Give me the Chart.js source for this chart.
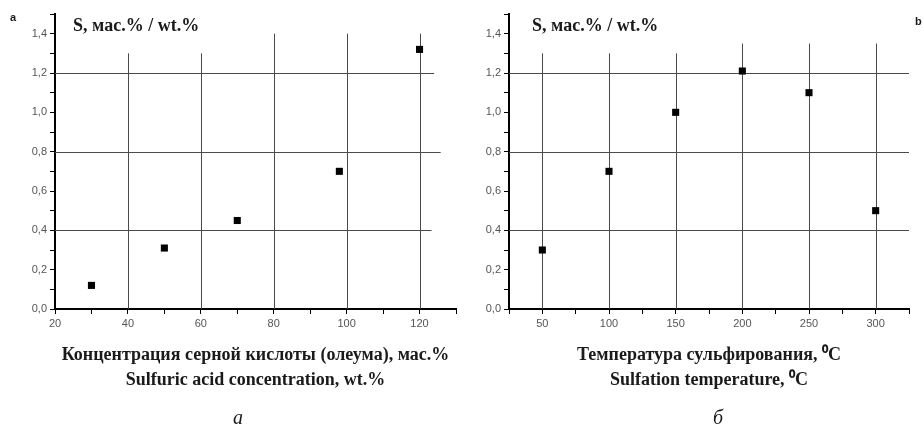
<!DOCTYPE html>
<html lang="ru">
<head>
<meta charset="UTF-8">
<title>Sulfur content vs. acid concentration and temperature</title>
<script src="https://cdn.jsdelivr.net/npm/chart.js@4.4.0/dist/chart.umd.min.js"></script>
<style>
    body {
        margin: 0;
        width: 924px;
        height: 429px;
        position: relative;
        overflow: hidden;
        background: #fff;
        font-family: 'Liberation Serif', 'Times New Roman', serif;
    }
    .panel { position: absolute; top: 0; width: 462px; height: 429px; }
    .ylab {
        position: absolute;
        top: 14px;
        font-weight: bold;
        font-size: 18px;
        line-height: 22px;
        color: #1a1a1a;
        white-space: nowrap;
    }
    .tag {
        position: absolute;
        font: bold 11px 'Liberation Sans', Arial, sans-serif;
        color: #1a1a1a;
    }
    .caption {
        position: absolute;
        top: 406px;
        font-style: italic;
        font-size: 20px;
        color: #1a1a1a;
        transform: translateX(-50%);
    }
</style>
</head>
<body>
<div class="panel" style="left:0"><canvas id="chartA" width="462" height="429"></canvas></div>
<div class="panel" style="left:462px"><canvas id="chartB" width="462" height="429"></canvas></div>
<div class="ylab" style="left:73px">S, мас.% / wt.%</div>
<div class="ylab" style="left:532px">S, мас.% / wt.%</div>
<div class="tag" style="left:10px; top:11px">a</div>
<div class="tag" style="left:915px; top:15px">b</div>
<div class="caption" style="left:238px">а</div>
<div class="caption" style="left:718px">б</div>

<script>
    // (a) sulfur content vs sulfuric acid (oleum) concentration
    const acidConc = [30, 50, 70, 98, 120];
    const sulfurByConc = [0.12, 0.31, 0.45, 0.70, 1.32];

    // (б) sulfur content vs sulfation temperature
    const sulfTemp = [50, 100, 150, 200, 250, 300];
    const sulfurByTemp = [0.30, 0.70, 1.00, 1.21, 1.10, 0.50];

    // grid line positions
    const gridXA = [40, 60, 80, 100, 120];
    const gridXB = [50, 100, 150, 200, 250, 300];
    const gridY = [0.4, 0.8, 1.2];

    const tickFont = { family: "'Liberation Sans', Arial, sans-serif", size: 11 };
    const titleFont = { family: "'Liberation Serif', 'Times New Roman', serif", size: 18, weight: 'bold', lineHeight: 1.39 };

    // grid lines in the original do not span the whole plot, so draw them by hand
    const partialGrid = {
        id: 'partialGrid',
        beforeDatasetsDraw(chart, args, opts) {
            const { ctx, scales: { x, y } } = chart;
            ctx.save();
            ctx.strokeStyle = '#4a4a4a';
            ctx.lineWidth = 1;
            opts.vertical.forEach(([v, top]) => {
                const px = Math.round(x.getPixelForValue(v)) + 0.5;
                ctx.beginPath();
                ctx.moveTo(px, y.getPixelForValue(0));
                ctx.lineTo(px, y.getPixelForValue(top));
                ctx.stroke();
            });
            opts.horizontal.forEach(([v, right]) => {
                const py = Math.round(y.getPixelForValue(v)) + 0.5;
                ctx.beginPath();
                ctx.moveTo(x.getPixelForValue(x.min), py);
                ctx.lineTo(x.getPixelForValue(right), py);
                ctx.stroke();
            });
            ctx.restore();
        }
    };

    function makeChart(id, xs, ys, xCfg, grid, xTitle, yWidth, padRight) {
        new Chart(document.getElementById(id), {
            type: 'scatter',
            data: {
                datasets: [{
                    data: xs.map((v, i) => ({ x: v, y: ys[i] })),
                    pointStyle: 'rect',
                    pointRadius: 5,
                    pointHoverRadius: 5,
                    backgroundColor: '#000',
                    borderColor: '#000',
                    borderWidth: 0
                }]
            },
            options: {
                responsive: false,
                animation: false,
                layout: { padding: { top: 14, right: padRight, bottom: 21, left: 0 } },
                plugins: {
                    legend: { display: false },
                    tooltip: { enabled: false },
                    partialGrid: grid
                },
                scales: {
                    x: {
                        type: 'linear',
                        min: xCfg.min,
                        max: xCfg.max,
                        afterFit: s => { s.height = 99; },
                        border: { color: '#000', width: 2 },
                        grid: { drawOnChartArea: false, color: '#000', tickLength: 5 },
                        ticks: {
                            stepSize: xCfg.step,
                            autoSkip: false,
                            maxRotation: 0,
                            padding: 3,
                            color: '#555',
                            font: tickFont,
                            callback: v => (v % xCfg.labelStep === 0 && v <= xCfg.lastLabel) ? String(v) : ''
                        },
                        title: {
                            display: true,
                            text: xTitle,
                            color: '#1a1a1a',
                            font: titleFont,
                            padding: { top: 0, bottom: 15 }
                        }
                    },
                    y: {
                        min: 0,
                        max: 1.5,
                        afterFit: s => { s.width = yWidth; },
                        border: { color: '#000', width: 2 },
                        grid: { drawOnChartArea: false, color: '#000', tickLength: 5 },
                        ticks: {
                            stepSize: 0.1,
                            autoSkip: false,
                            padding: 3,
                            color: '#555',
                            font: tickFont,
                            callback: v => (Math.round(v * 10) % 2 === 0 && v < 1.45) ? v.toFixed(1).replace('.', ',') : ''
                        }
                    }
                }
            },
            plugins: [partialGrid]
        });
    }

    makeChart('chartA', acidConc, sulfurByConc,
        { min: 20, max: 130, step: 10, labelStep: 20, lastLabel: 120 },
        {
            vertical: gridXA.map(v => [v, v < 80 ? 1.3 : 1.4]),
            horizontal: [[gridY[0], 123.3], [gridY[1], 125.8], [gridY[2], 124]]
        },
        ['Концентрация серной кислоты (олеума), мас.%', 'Sulfuric acid concentration, wt.%'],
        55, 6);

    makeChart('chartB', sulfTemp, sulfurByTemp,
        { min: 25, max: 325, step: 25, labelStep: 50, lastLabel: 300 },
        {
            vertical: gridXB.map(v => [v, v < 200 ? 1.3 : 1.35]),
            horizontal: gridY.map(v => [v, 325])
        },
        ['Температура сульфирования, ⁰C', 'Sulfation temperature, ⁰C'],
        47, 15);
</script>
</body>
</html>
